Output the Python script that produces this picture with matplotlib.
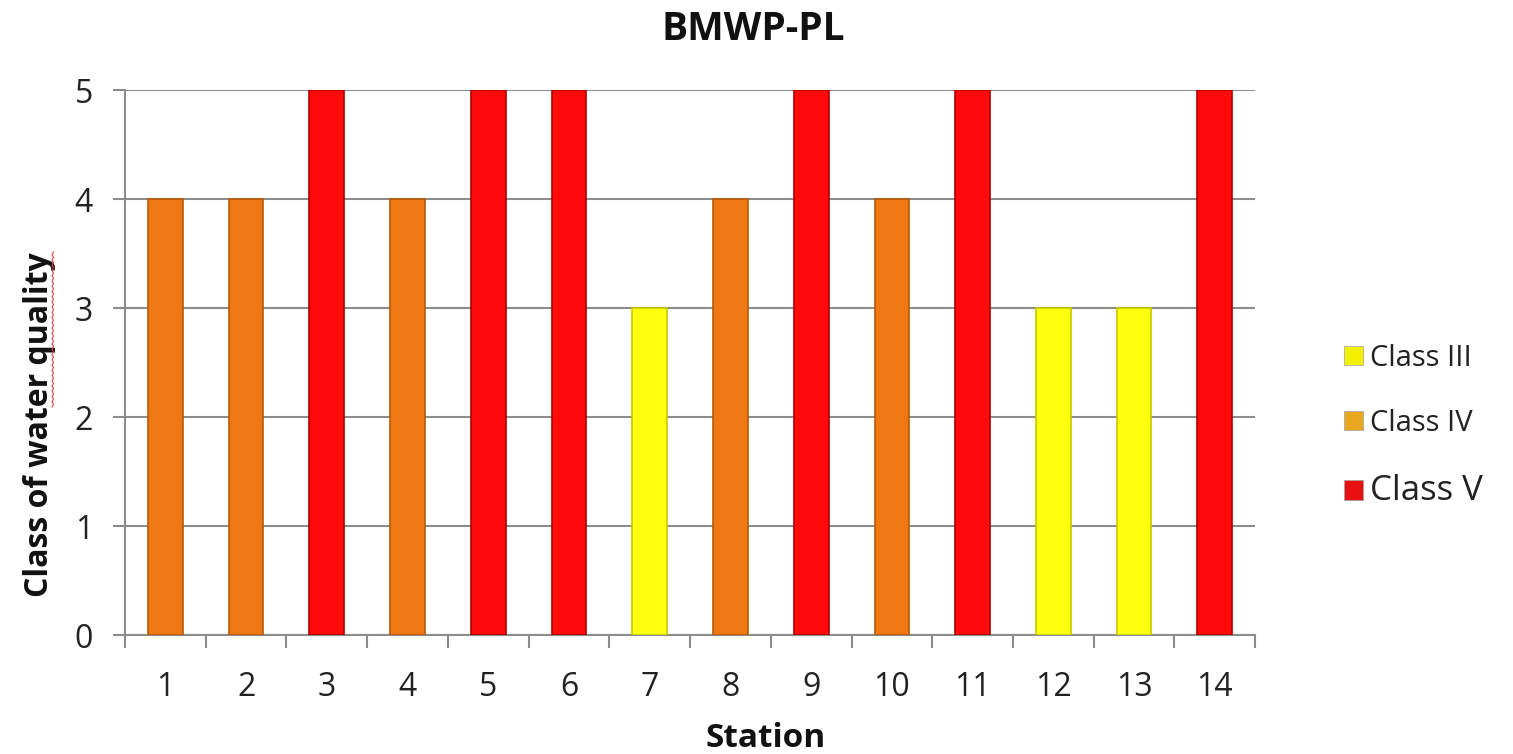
import numpy as np
import matplotlib.pyplot as plt
from matplotlib.patches import Rectangle
from matplotlib.lines import Line2D

# data
stations = list(range(1, 15))
water_class = [4, 4, 5, 4, 5, 5, 3, 4, 5, 4, 5, 3, 3, 5]
class_names = ['Class III', 'Class IV', 'Class V']

bar_colors = {3: '#FFFF10', 4: '#F07812', 5: '#FF0A0A'}
edge_colors = {3: '#C8C800', 4: '#B85A08', 5: '#B00000'}
legend_colors = ['#F2F000', '#E8A820', '#E81010']

plt.rcParams['font.family'] = ['Open Sans', 'DejaVu Sans']

W, H = 1513, 754
fig = plt.figure(figsize=(W / 100, H / 100), dpi=100)
ax = fig.add_axes([0.0826, 0.1578, 0.747, 0.7228])

ax.bar(stations, water_class, width=0.43,
       color=[bar_colors[c] for c in water_class],
       edgecolor=[edge_colors[c] for c in water_class], linewidth=1.2, zorder=3)

ax.set_xlim(0.5, 14.5)
ax.set_ylim(0, 5)
ax.set_yticks(range(6))
ax.yaxis.grid(True, color='#8c8c8c', linewidth=1.5, zorder=0)

# ticks between categories, labels at the centre
ax.set_xticks([i + 0.5 for i in range(15)])
ax.set_xticklabels([])
ax.set_xticks(stations, minor=True)
ax.set_xticklabels([str(s) for s in stations], minor=True)
ax.tick_params(axis='x', which='minor', length=0, pad=26, labelsize=23, labelcolor='#222222')
ax.tick_params(axis='x', which='major', length=9, width=1.5, color='#8c8c8c', direction='out')
ax.tick_params(axis='y', length=9, width=1.5, color='#8c8c8c', labelsize=23, pad=14,
               labelcolor='#222222')

for s in ['top', 'right']:
    ax.spines[s].set_visible(False)
for s in ['left', 'bottom']:
    ax.spines[s].set_color('#8c8c8c')
    ax.spines[s].set_linewidth(1.5)

# title and axis labels sit where the original puts them (not centred on the axes)
fig.text(753 / W, 1 - 30 / H, 'BMWP-PL', fontsize=28, fontweight='bold', color='#111111',
         ha='center', va='center')
ax.set_xlabel('Station', fontsize=24, fontweight='bold', color='#111111')
ax.xaxis.set_label_coords((766 - 125) / 1130, -(738 - 635) / 545)
ax.xaxis.label.set_va('center')
ax.set_ylabel('Class of water quality', fontsize=23, fontweight='bold', color='#111111')
ax.yaxis.set_label_coords(-(125 - 40) / 1130, (635 - 425) / 545)
ax.yaxis.label.set_va('center')

# spell-check squiggle under "water quality"
sy = np.linspace(H - 407, H - 252, 60)
sx = 52 + 1.5 * (np.arange(60) % 2)
fig.add_artist(Line2D(sx / W, sy / H, color='#e04040', linewidth=0.8,
                      transform=fig.transFigure))

handles = [Rectangle((0, 0), 1, 1, facecolor=c, edgecolor='#a0a0a0', linewidth=0.5) for c in legend_colors]
leg = fig.legend(handles, class_names, loc='center left', bbox_to_anchor=(0.871, 0.435),
                 frameon=False, handlelength=0.65, handleheight=0.65, handletextpad=0.25,
                 labelspacing=1.25, fontsize=21)
for t in leg.get_texts():
    t.set_color('#222222')
leg.get_texts()[2].set_fontsize(25)

fig.savefig('out.png', dpi=100)
